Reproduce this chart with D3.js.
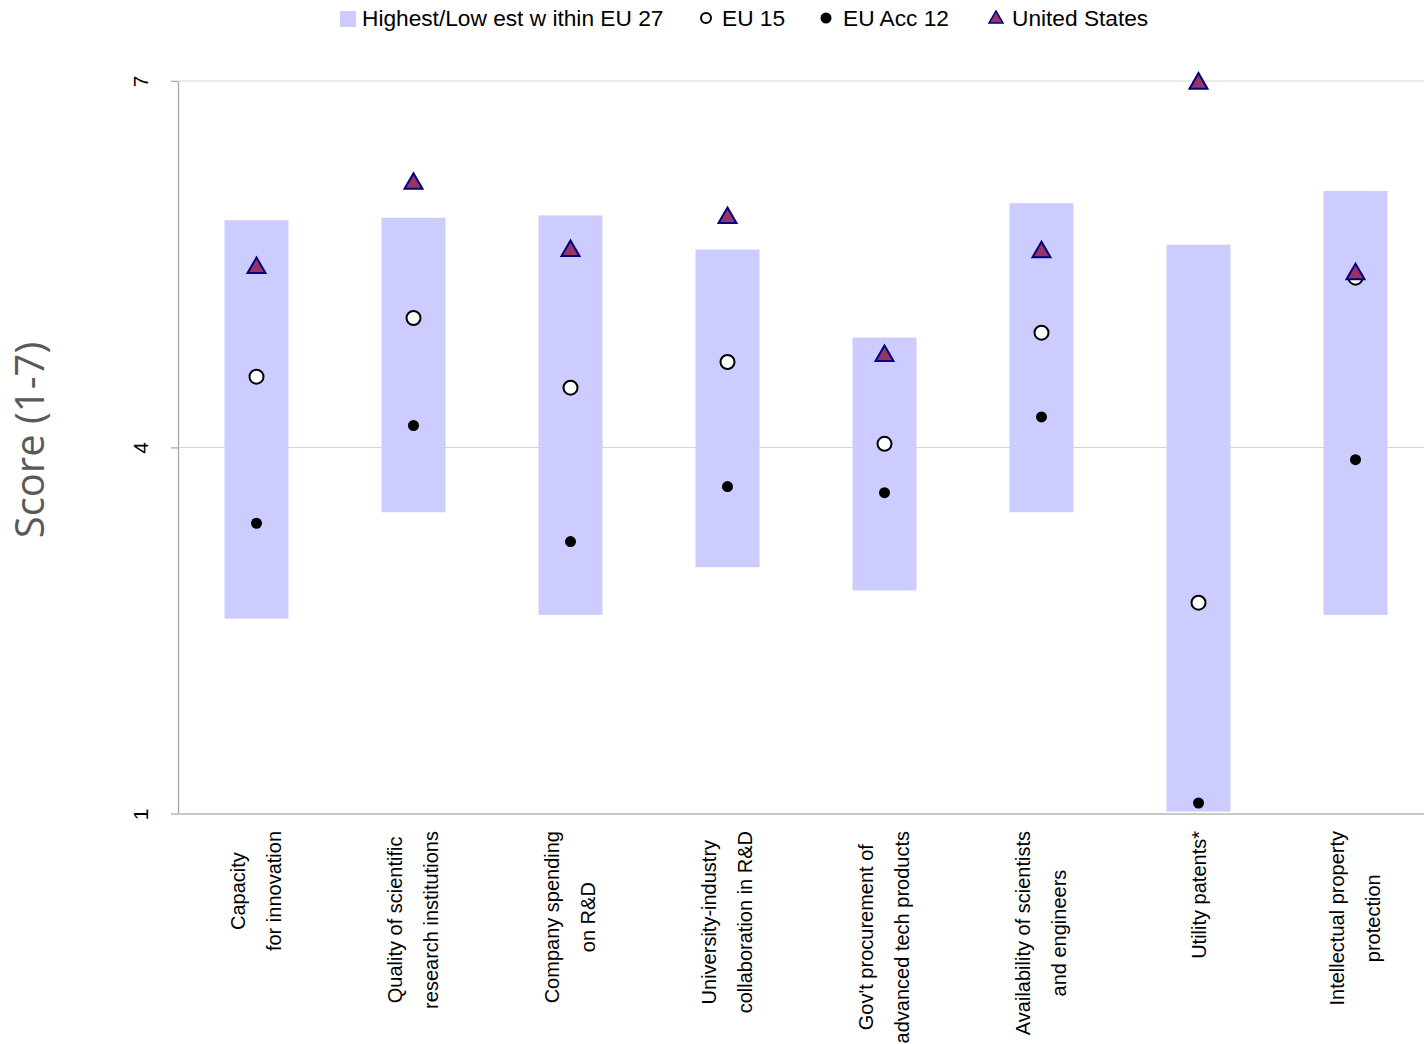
<!DOCTYPE html>
<html>
<head>
<meta charset="utf-8">
<script src="https://cdnjs.cloudflare.com/ajax/libs/d3/7.8.5/d3.min.js"></script>
<style>
body{margin:0;background:#fff;}
text{font-family:"Liberation Sans",Arial,sans-serif;}
.cat{font-family:"Liberation Sans Narrow","Arial Narrow","Liberation Sans",sans-serif;font-size:20px;fill:#000;}
</style>
</head>
<body>
<div class="chart"></div>
<script>
// categories, 2 lines each
var categories=[
	"Capacity\nfor innovation",
	"Quality of scientific\nresearch institutions",
	"Company spending\non R&D",
	"University-industry\ncollaboration in R&D",
	"Gov't procurement of\nadvanced tech products",
	"Availability of scientists\nand engineers",
	"Utility patents*",
	"Intellectual property\nprotection"
];
var highEU27=[5.86,5.88,5.90,5.62,4.90,6.00,5.66,6.10];
var lowEU27=[2.60,3.47,2.63,3.02,2.83,3.47,1.02,2.63];
var eu15=[4.58,5.06,4.49,4.70,4.03,4.94,2.73,5.39];
var euAcc12=[3.38,4.18,3.23,3.68,3.63,4.25,1.09,3.90];
var unitedStates=[5.47,6.16,5.61,5.88,4.75,5.60,6.98,5.42];
var yTicks=[1,4,7];

var width=1424,height=1044;
var svg=d3.select('div.chart')
		.append('svg')
		.attr('width',width)
		.attr('height',height);

var x=d3.scaleBand()
		.domain(categories)
		.range([178,178+8*157]);
var y=d3.scaleLinear()
		.domain([1,7])
		.range([814,81]);

//网格线
svg.append('g')
	.selectAll('line')
	.data(yTicks.slice(1))
	.enter()
	.append('line')
	.attr('x1',171).attr('x2',width)
	.attr('y1',function(d){return y(d);})
	.attr('y2',function(d){return y(d);})
	.attr('stroke','#d4d4d4')
	.attr('stroke-width',1);

//y axis
var yAxis=svg.append('g')
	.attr('transform','translate(178,0)')
	.call(d3.axisLeft(y).tickValues(yTicks).tickSize(7).tickSizeOuter(0).tickFormat(d3.format('d')));
yAxis.select('.domain').attr('stroke','#a6a6a6').attr('stroke-width',1.3);
yAxis.selectAll('.tick line').attr('stroke','#a6a6a6');
yAxis.selectAll('.tick text')
	.attr('x',null).attr('dy',null)
	.attr('transform','translate(-37,0) rotate(-90)')
	.attr('text-anchor','middle')
	.attr('dy','0.35em')
	.style('font-size','21px')
	.style('font-family','"Liberation Sans",Arial,sans-serif')
	.attr('fill','#000');

//x axis line
svg.append('line')
	.attr('x1',171).attr('x2',width)
	.attr('y1',y(1)).attr('y2',y(1))
	.attr('stroke','#c8c8c8').attr('stroke-width',2);

var barW=64;
var cx=function(i){return x(categories[i])+x.bandwidth()/2;};

//bars
svg.append('g')
	.selectAll('rect')
	.data(categories)
	.enter()
	.append('rect')
	.attr('x',function(d,i){return cx(i)-barW/2;})
	.attr('y',function(d,i){return y(highEU27[i]);})
	.attr('width',barW)
	.attr('height',function(d,i){return y(lowEU27[i])-y(highEU27[i]);})
	.attr('fill','#ccccff');

//EU Acc 12
svg.append('g')
	.selectAll('circle')
	.data(euAcc12)
	.enter()
	.append('circle')
	.attr('cx',function(d,i){return cx(i);})
	.attr('cy',function(d){return y(d);})
	.attr('r',5.5)
	.attr('fill','#000');

//EU 15
svg.append('g')
	.selectAll('circle')
	.data(eu15)
	.enter()
	.append('circle')
	.attr('cx',function(d,i){return cx(i);})
	.attr('cy',function(d){return y(d);})
	.attr('r',7)
	.attr('fill','#fff')
	.attr('stroke','#000')
	.attr('stroke-width',2);

//US triangles
var tri=d3.symbol().type(d3.symbolTriangle).size(140);
svg.append('g')
	.selectAll('path')
	.data(unitedStates)
	.enter()
	.append('path')
	.attr('d',tri)
	.attr('transform',function(d,i){return 'translate('+cx(i)+','+y(d)+')';})
	.attr('fill','#993366')
	.attr('stroke','#000080')
	.attr('stroke-width',2);

//category labels
categories.forEach(function(c,i){
	var lines=c.split('\n');
	var g=svg.append('g');
	var texts=lines.map(function(l,j){
		var off=lines.length==1?0:(j==0?-19:17);
		return g.append('text')
			.attr('class','cat')
			.attr('text-anchor','middle')
			.attr('dy','0.35em')
			.attr('data-x',cx(i)+off)
			.text(l);
	});
	var maxW=d3.max(texts,function(t){return t.node().getComputedTextLength();});
	var cy=831+maxW/2;
	texts.forEach(function(t){
		t.attr('transform','translate('+t.attr('data-x')+','+cy+') rotate(-90)');
	});
});

//y title
svg.append('text')
	.attr('transform','translate(30,440) rotate(-90)')
	.attr('text-anchor','middle')
	.attr('dy','0.35em')
	.style('font-family','"Open Sans",sans-serif')
	.style('font-size','40px')
	.attr('fill','#595959')
	.text('Score (1-7)');

//legend
var lg=svg.append('g').style('font-size','22.7px');
lg.append('rect').attr('x',340).attr('y',11).attr('width',16).attr('height',16).attr('fill','#ccccff');
lg.append('text').attr('x',362).attr('y',26).text('Highest/Low est w ithin EU 27');
lg.append('circle').attr('cx',706).attr('cy',18).attr('r',5).attr('fill','#fff').attr('stroke','#000').attr('stroke-width',2);
lg.append('text').attr('x',722).attr('y',26).text('EU 15');
lg.append('circle').attr('cx',826).attr('cy',18).attr('r',5.5).attr('fill','#000');
lg.append('text').attr('x',843).attr('y',26).text('EU Acc 12');
lg.append('path').attr('d',d3.symbol().type(d3.symbolTriangle).size(85)).attr('transform','translate(996,19)')
	.attr('fill','#993366').attr('stroke','#000080').attr('stroke-width',1.5);
lg.append('text').attr('x',1012).attr('y',26).text('United States');
</script>
</body>
</html>
